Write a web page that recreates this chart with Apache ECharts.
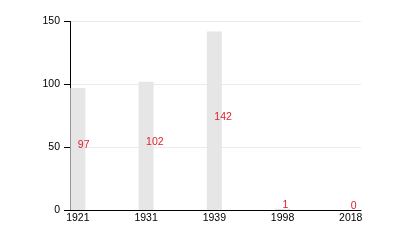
<!DOCTYPE html>
<html>
<head>
<meta charset="utf-8">
<script src="https://cdn.jsdelivr.net/npm/echarts@6/dist/echarts.min.js"></script>
<style>html,body{margin:0;padding:0;background:#fff}#c{width:400px;height:250px}</style>
</head>
<body>
<div id="c"></div>
<script>
var categories = ['1921', '1931', '1939', '1998', '2018'];
var values = [97, 102, 142, 1, 0];
var yTicks = [0, 50, 100, 150];

var chart = echarts.init(document.getElementById('c'), null, {renderer: 'canvas'});
var barData = values.map(function (v, i) { return [i, v]; });
var font = 'Liberation Sans, Arial, sans-serif';
chart.setOption({
  animation: false,
  grid: {left: 70, right: 39, top: 21.5, bottom: 40},
  xAxis: {
    type: 'value',
    min: -0.115,
    max: 4.15,
    splitLine: {show: false},
    axisLine: {show: true, onZero: false, lineStyle: {color: '#000', width: 1}},
    axisTick: {show: false},
    axisLabel: {
      customValues: categories.map(function (c, i) { return i; }),
      formatter: function (v) { return categories[Math.round(v)]; },
      color: '#000', fontSize: 10.5, fontFamily: font, margin: 3
    }
  },
  yAxis: {
    type: 'value',
    min: 0, max: 150, interval: 50,
    axisLine: {show: true, onZero: false, lineStyle: {color: '#000', width: 1}},
    axisTick: {show: true, length: 6, lineStyle: {color: '#000'}},
    axisLabel: {
      customValues: yTicks,
      color: '#000', fontSize: 10.5, fontFamily: font, margin: 10
    },
    splitLine: {show: true, lineStyle: {color: '#ebebeb', width: 1}}
  },
  series: [{
    type: 'bar',
    data: barData,
    barWidth: 15,
    itemStyle: {color: '#e6e6e6'},
    label: {
      show: true,
      position: 'inside',
      align: 'left',
      offset: [0, -4],
      color: '#e0202c',
      fontSize: 10.5,
      fontFamily: font,
      formatter: function (p) { return String(p.value[1]); }
    }
  }]
});
</script>
</body>
</html>
